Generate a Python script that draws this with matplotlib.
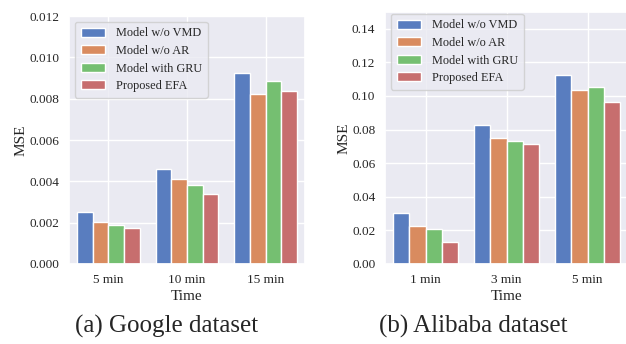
import matplotlib
matplotlib.use("Agg")
import matplotlib.pyplot as plt
import seaborn as sns
import numpy as np

models = ["Model w/o VMD", "Model w/o AR", "Model with GRU", "Proposed EFA"]

google_times = ["5 min", "10 min", "15 min"]
google_vmd = [0.00250, 0.00460, 0.00922]
google_ar = [0.00203, 0.00410, 0.00824]
google_gru = [0.00188, 0.00380, 0.00884]
google_efa = [0.00174, 0.00337, 0.00838]

alibaba_times = ["1 min", "3 min", "5 min"]
alibaba_vmd = [0.0305, 0.0830, 0.1125]
alibaba_ar = [0.0226, 0.0752, 0.1033]
alibaba_gru = [0.0208, 0.0732, 0.1052]
alibaba_efa = [0.0128, 0.0712, 0.0962]

sns.set_theme(style="darkgrid", palette="muted")
plt.rcParams["font.family"] = ["Liberation Serif", "DejaVu Serif"]

colors = [sns.desaturate(c, 0.75) for c in sns.color_palette("muted", 4)]

fig = plt.figure(figsize=(6.26, 3.44), dpi=100)
W, H = 626, 344

def make_axes(rect):
    x0, y0, x1, y1 = rect
    return fig.add_axes([x0 / W, 1 - y1 / H, (x1 - x0) / W, (y1 - y0) / H])

def draw(ax, cats, series, ylim, yticks, yfmt, legend_anchor):
    x = np.arange(len(cats))
    n = len(series)
    bw = 0.8 / n
    for i, (vals, name) in enumerate(zip(series, models)):
        ax.bar(x - 0.4 + bw * (i + 0.5), vals, width=bw, color=colors[i],
               edgecolor="white", linewidth=1.0, label=name, zorder=2)
    ax.set_xlim(-0.5, len(cats) - 0.5)
    ax.set_ylim(*ylim)
    ax.set_yticks(yticks)
    ax.set_yticklabels([yfmt.format(v) for v in yticks], fontsize=9.5)
    ax.set_xticks(x)
    ax.set_xticklabels(cats, fontsize=9.5)
    ax.set_xlabel("Time", fontsize=11, labelpad=3)
    ax.set_ylabel("MSE", fontsize=11, labelpad=1)
    ax.tick_params(axis="both", length=0)
    ax.tick_params(axis="y", pad=7)
    ax.tick_params(axis="x", pad=7)
    ax.legend(loc="upper left", bbox_to_anchor=legend_anchor, fontsize=8.8,
              handlelength=2.0, borderpad=0.45, labelspacing=0.45,
              handletextpad=0.9, borderaxespad=0.0)

ax1 = make_axes((69, 16, 305, 264))
draw(ax1, google_times, [google_vmd, google_ar, google_gru, google_efa],
     (0, 0.012), np.arange(0, 0.0121, 0.002), "{:.3f}", (6 / 236, 1 - 6 / 248))

ax2 = make_axes((385, 12, 628, 264))
draw(ax2, alibaba_times, [alibaba_vmd, alibaba_ar, alibaba_gru, alibaba_efa],
     (0, 0.15), np.arange(0, 0.141, 0.02), "{:.2f}", (6 / 243, 1 - 2 / 252))

fig.text(167 / W, 1 - 326 / H, "(a) Google dataset", ha="center", va="center", fontsize=18)
fig.text(473 / W, 1 - 326 / H, "(b) Alibaba dataset", ha="center", va="center", fontsize=18)

fig.savefig("out.png", dpi=100)
